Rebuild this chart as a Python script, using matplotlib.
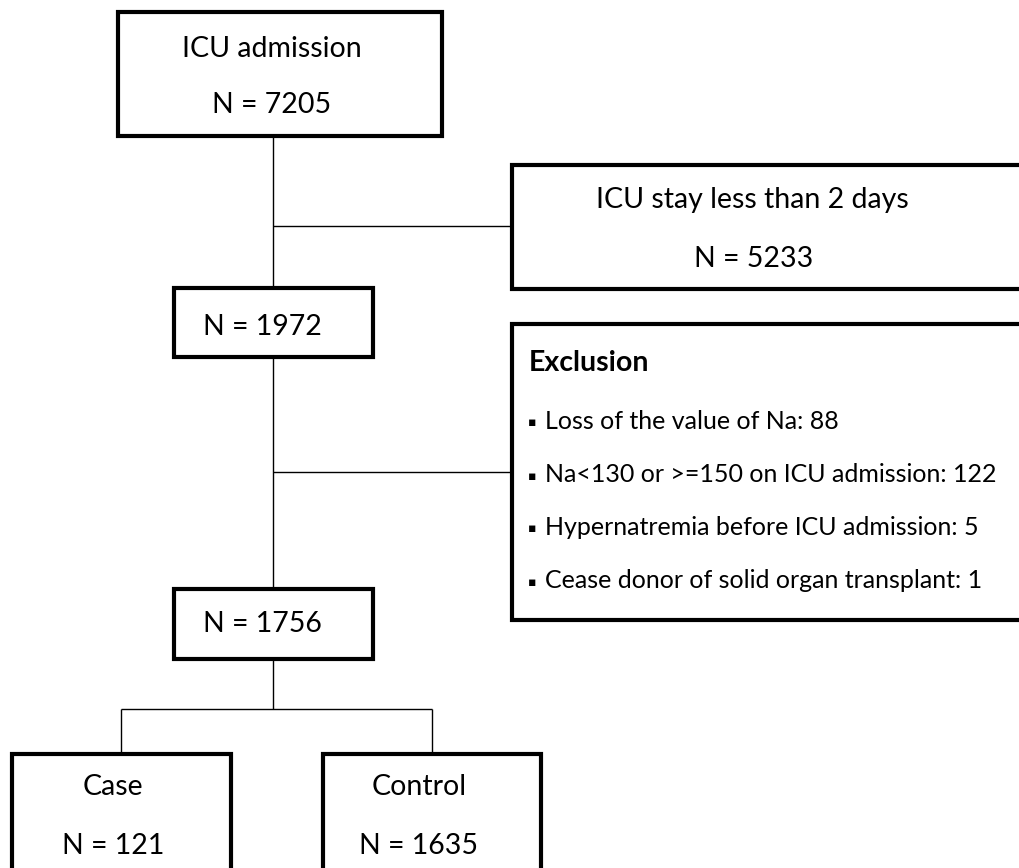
import matplotlib.pyplot as plt
from matplotlib.patches import Rectangle

# flow counts
start_label = "ICU admission"
n_admission = 7205
short_stay_label = "ICU stay less than 2 days"
n_short_stay = 5233
n_after_stay = 1972
exclusion_title = "Exclusion"
exclusion_reasons = ["Loss of the value of Na",
                     "Na<130 or >=150 on ICU admission",
                     "Hypernatremia before ICU admission",
                     "Cease donor of solid organ transplant"]
exclusion_counts = [88, 122, 5, 1]
n_final = 1756
group_labels = ["Case", "Control"]
group_counts = [121, 1635]

plt.rcParams['font.family'] = ['Lato', 'DejaVu Sans']

fig = plt.figure(figsize=(10.19, 8.68), dpi=100)
ax = fig.add_axes([0, 0, 1, 1])
ax.set_xlim(0, 1019)
ax.set_ylim(868, 0)
ax.axis('off')

BOX_LW = 3.0
LINE_LW = 1.0
BIG = 20.5
SMALL = 18

def box(x0, y0, x1, y1):
    ax.add_patch(Rectangle((x0, y0), x1 - x0, y1 - y0, facecolor='white',
                           edgecolor='black', linewidth=BOX_LW,
                           joinstyle='miter', zorder=2))

def line(xs, ys):
    ax.plot(xs, ys, color='black', linewidth=LINE_LW,
            solid_capstyle='butt', zorder=1)

# boxes
box(118, 12, 442, 136)
box(512, 165, 1040, 289)
box(174, 288, 373, 357)
box(512, 324, 1040, 620)
box(174, 589, 373, 659)
box(12, 754, 231, 900)
box(323, 754, 541, 900)

# connectors
line([273, 273], [136, 589])
line([273, 512], [226, 226])
line([273, 512], [472, 472])
line([273, 273], [659, 709])
line([121, 432], [709, 709])
line([121, 121], [709, 754])
line([432, 432], [709, 754])

# texts
ax.text(272, 57, start_label, fontsize=BIG, ha='center', va='baseline', zorder=3)
ax.text(272, 113, f"N = {n_admission}", fontsize=BIG, ha='center', va='baseline', zorder=3)
ax.text(752, 208, short_stay_label, fontsize=BIG, ha='center', va='baseline', zorder=3)
ax.text(754, 267, f"N = {n_short_stay}", fontsize=BIG, ha='center', va='baseline', zorder=3)
ax.text(203, 335, f"N = {n_after_stay}", fontsize=BIG, ha='left', va='baseline', zorder=3)
ax.text(203, 632, f"N = {n_final}", fontsize=BIG, ha='left', va='baseline', zorder=3)

ax.text(529, 371, exclusion_title, fontsize=BIG, fontweight='bold',
        ha='left', va='baseline', zorder=3)
for i, (reason, cnt) in enumerate(zip(exclusion_reasons, exclusion_counts)):
    yb = 429 + i * 53
    ax.text(528, yb - 6, "▪", fontsize=9, ha='left', va='center',
            family='DejaVu Sans', zorder=3)
    ax.text(545, yb, f"{reason}: {cnt}", fontsize=SMALL, ha='left',
            va='baseline', zorder=3)

for cx, lab, cnt in zip([113, 419], group_labels, group_counts):
    ax.text(cx, 795, lab, fontsize=BIG, ha='center', va='baseline', zorder=3)
    ax.text(cx, 854, f"N = {cnt}", fontsize=BIG, ha='center', va='baseline', zorder=3)

fig.savefig('out.png', dpi=100, facecolor='white')
